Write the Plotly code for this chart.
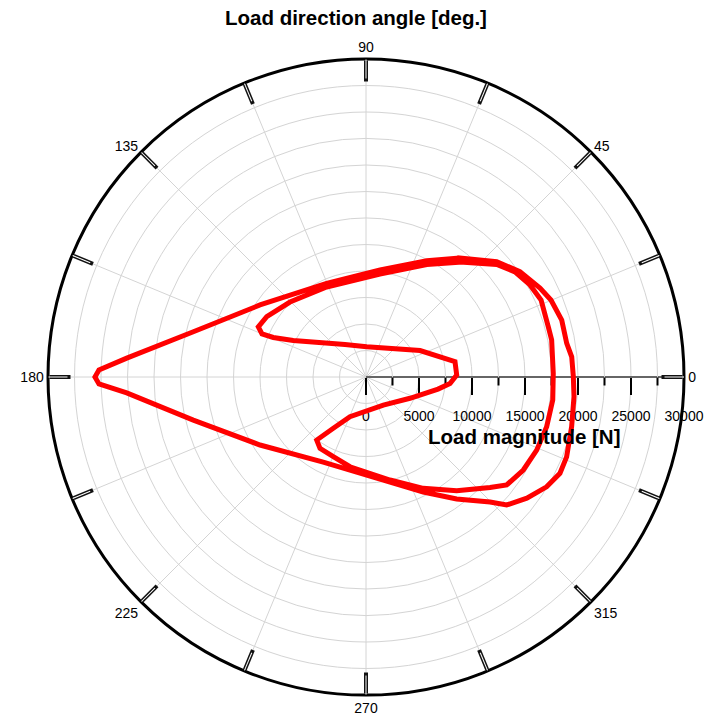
import plotly.graph_objects as go

# Bearing load polar diagram: load direction [deg] vs load magnitude [N]
# Outer loop of the cycle
outer_angle = [51.7, 62.4, 82.5, 112.8, 145.8, 165.3, 175.5, 178.5, 180.0, 181.5,
               183.8, 194.0, 212.7, 243.3, 264.4, 282.9, 296.5, 306.6, 314.8, 317.7,
               323.0, 328.7, 333.6, 338.3, 346.4, 354.6, 0.1, 5.6, 9.5, 16.2,
               22.6, 27.1, 34.4, 41.4, 51.7]
outer_load = [14300, 12380, 10180, 9590, 12090, 16840, 22640, 25200, 25570, 25200,
              22620, 16790, 11880, 8980, 9010, 10160, 12120, 14340, 16610, 17940,
              19000, 19940, 20430, 20370, 19960, 19710, 19560, 19500, 19200, 19230,
              18900, 18440, 17600, 16440, 14300]

# Inner loop of the cycle
inner_angle = [50.7, 61.6, 82.3, 113.6, 135.4, 148.7, 155.0, 157.5, 156.9, 153.3,
               122.9, 88.7, 26.1, 9.8, 1.3, 355.6, 350.5, 334.2, 301.7, 248.0,
               237.5, 232.0, 237.2, 247.7, 259.9, 283.1, 297.2, 308.6, 318.3, 322.5,
               329.4, 336.8, 344.6, 353.0, 1.1, 11.3, 15.4, 23.7, 29.3, 35.2,
               40.7, 50.7]
inner_load = [14010, 12060, 9810, 9270, 10070, 10960, 11210, 10620, 9510, 7680,
              3650, 2860, 5680, 8520, 8560, 7950, 6890, 4610, 3110, 4040,
              5740, 7550, 8010, 8130, 8600, 9980, 11810, 13720, 15670, 16730,
              17240, 17520, 17680, 17750, 17670, 17860, 17840, 18040, 17740, 17200,
              16270, 14010]

# Axis ticks
angle_ticks = [i * 22.5 for i in range(16)]
angle_labels = [str(int(a)) if a % 45 == 0 else "" for a in angle_ticks]
major_r = [0, 5000, 10000, 15000, 20000, 25000, 30000]
minor_r = [2500, 7500, 12500, 17500, 22500, 27500]

FONT = "Liberation Sans, Arial, sans-serif"
GRID = "#d4d4d4"
DOMAIN = dict(x=[0, 1], y=[0, 1])
R_RANGE = [0, 30000]

fig = go.Figure()
# Invisible placeholders so the stacked polar layers get rendered
for sp in ("polar", "polar2"):
    fig.add_trace(go.Scatterpolar(
        r=[0], theta=[0], mode="markers",
        marker=dict(size=1, color="rgba(0,0,0,0)"),
        hoverinfo="skip", showlegend=False, subplot=sp,
    ))
fig.add_trace(go.Scatterpolar(
    r=outer_load + inner_load,
    theta=outer_angle + inner_angle,
    mode="lines",
    line=dict(color="#ff0000", width=5),
    showlegend=False,
    subplot="polar3",
))

fig.update_layout(
    width=707, height=724,
    margin=dict(l=48, r=23, t=59, b=29),
    paper_bgcolor="white",
    font=dict(family=FONT, size=14, color="black"),
    title=dict(text="<b>Load direction angle [deg.]</b>",
               x=0.5035, xanchor="center", y=0.975, yanchor="middle",
               font=dict(family=FONT, size=20.5, color="black")),
    # base layer: outer ring, angular labels, major grid, axis line, major ticks
    polar=dict(
        domain=DOMAIN,
        bgcolor="white",
        angularaxis=dict(
            rotation=0, direction="counterclockwise",
            tickmode="array", tickvals=angle_ticks, ticktext=angle_labels,
            ticks="inside", ticklen=21, tickwidth=4, tickcolor="#111",
            showline=True, linecolor="black", linewidth=3,
            showgrid=True, gridcolor=GRID, gridwidth=1,
            tickfont=dict(size=14, color="black"),
        ),
        radialaxis=dict(
            range=R_RANGE, angle=0, side="clockwise",
            tickmode="array", tickvals=major_r,
            ticks="outside", ticklen=17, tickwidth=1.5, tickcolor="black",
            showticklabels=False,
            showline=True, linecolor="#666", linewidth=2,
            showgrid=True, gridcolor=GRID, gridwidth=1,
        ),
    ),
    # minor grid circles, minor radial ticks, hollow centre of angular ticks
    polar2=dict(
        domain=DOMAIN,
        bgcolor="rgba(0,0,0,0)",
        angularaxis=dict(
            rotation=0, direction="counterclockwise",
            tickmode="array", tickvals=angle_ticks,
            ticks="inside", ticklen=19, tickwidth=1.3, tickcolor="white",
            showline=False, showgrid=False, showticklabels=False,
        ),
        radialaxis=dict(
            range=R_RANGE, angle=0, side="clockwise",
            tickmode="array", tickvals=minor_r,
            ticks="outside", ticklen=8, tickwidth=1.5, tickcolor="black",
            showticklabels=False, showline=False,
            showgrid=True, gridcolor=GRID, gridwidth=1,
        ),
    ),
    # top layer: radial labels and the load curve
    polar3=dict(
        domain=DOMAIN,
        bgcolor="rgba(0,0,0,0)",
        angularaxis=dict(visible=False, rotation=0, direction="counterclockwise"),
        radialaxis=dict(
            range=R_RANGE, angle=0, side="clockwise",
            tickmode="array", tickvals=major_r,
            ticktext=[str(v) for v in major_r],
            ticks="outside", ticklen=27, tickcolor="rgba(0,0,0,0)",
            showline=False, showgrid=False,
            tickfont=dict(size=14, color="black"), tickangle=0,
            layer="below traces",
        ),
    ),
    # radial axis title, centred under the middle of the radial axis
    annotations=[dict(
        text="<b>Load magnitude [N]</b>",
        xref="paper", yref="paper", x=0.7484, y=0.4057,
        xanchor="center", yanchor="middle", showarrow=False,
        font=dict(family=FONT, size=20.5, color="black"),
    )],
)

fig.write_html("out.html")
